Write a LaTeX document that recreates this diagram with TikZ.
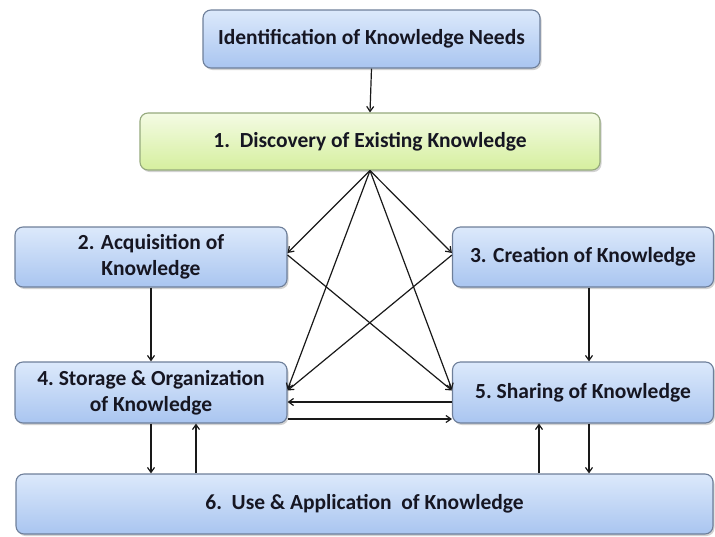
\documentclass[tikz,border=0pt]{standalone}
\usepackage{fontspec}
\setmainfont{Carlito}
\usetikzlibrary{arrows.meta,shadows,calc}
\definecolor{btop}{HTML}{DCE9FB}
\definecolor{bbot}{HTML}{A9C5F0}
\definecolor{gtop}{HTML}{F4FBE4}
\definecolor{gbot}{HTML}{D5EF9E}
\definecolor{bord}{HTML}{6E7F9A}
\definecolor{gbord}{HTML}{95A97D}
\definecolor{txt}{HTML}{161622}
\begin{document}
\begin{tikzpicture}[x=1pt,y=-1pt,
  box/.style={draw=bord,line width=1.1pt,rounded corners=8pt,top color=btop,bottom color=bbot,
    text=txt,font=\fontsize{21.5}{26}\selectfont\bfseries,align=center,inner sep=0pt,
    drop shadow={shadow xshift=1.5pt,shadow yshift=-2pt,fill=black!35,opacity=0.5}},
  gbox/.style={box,draw=gbord,top color=gtop,bottom color=gbot},
  arr/.style={draw=black!90,line width=1.2pt,-{Straight Barb[length=5pt,width=7pt]}}]
\useasboundingbox (0,0) rectangle (715,536);
\node[box,minimum width=337pt,minimum height=58pt] (top) at (371.5,39) {Identification of Knowledge Needs};
\node[gbox,minimum width=460pt,minimum height=57pt] (g) at (370,141.5) {1.\ \ Discovery of Existing Knowledge};
\node[box,minimum width=272pt,minimum height=60pt] (b2) at (151,257) {2. Acquisition of\\Knowledge};
\node[box,minimum width=261pt,minimum height=60pt] (b3) at (583,257) {3. Creation of Knowledge};
\node[box,minimum width=272pt,minimum height=61pt] (b4) at (151,392.5) {4.\ Storage \& Organization\\of Knowledge};
\node[box,minimum width=261pt,minimum height=61pt] (b5) at (583,392.5) {5.\ Sharing of Knowledge};
\node[box,minimum width=697pt,minimum height=60pt] (b6) at (364.5,504) {6.\ \ Use \& Application \ of Knowledge};
% arrows
\draw[arr] (top.south) -- (g.north);
\draw[arr] (g.south) -- ([yshift=4pt]b2.east);
\draw[arr] (g.south) -- ([yshift=4pt]b3.west);
\draw[arr] (g.south) -- ([yshift=3pt]b4.east);
\draw[arr] (g.south) -- ([yshift=3pt]b5.west);
\draw[arr] ([yshift=2pt]b2.east) -- ([yshift=2pt]b5.west);
\draw[arr] ([yshift=2pt]b3.west) -- ([yshift=2pt]b4.east);
\draw[arr] ([yshift=-9.5pt]b5.west) -- ([yshift=-9.5pt]b4.east);
\draw[arr] ([yshift=-26.5pt]b4.east) -- ([yshift=-26.5pt]b5.west);
\draw[arr] (b2.south) -- (b4.north);
\draw[arr] ([xshift=6pt]b3.south) -- ([xshift=6pt]b5.north);
\draw[arr] (b4.south) -- (b4.south |- b6.north);
\draw[arr] ([xshift=45pt]b4.south |- b6.north) -- ([xshift=45pt]b4.south);
\draw[arr] ([xshift=-44pt]b5.south |- b6.north) -- ([xshift=-44pt]b5.south);
\draw[arr] ([xshift=6pt]b5.south) -- ([xshift=6pt]b5.south |- b6.north);
\end{tikzpicture}
\end{document}
